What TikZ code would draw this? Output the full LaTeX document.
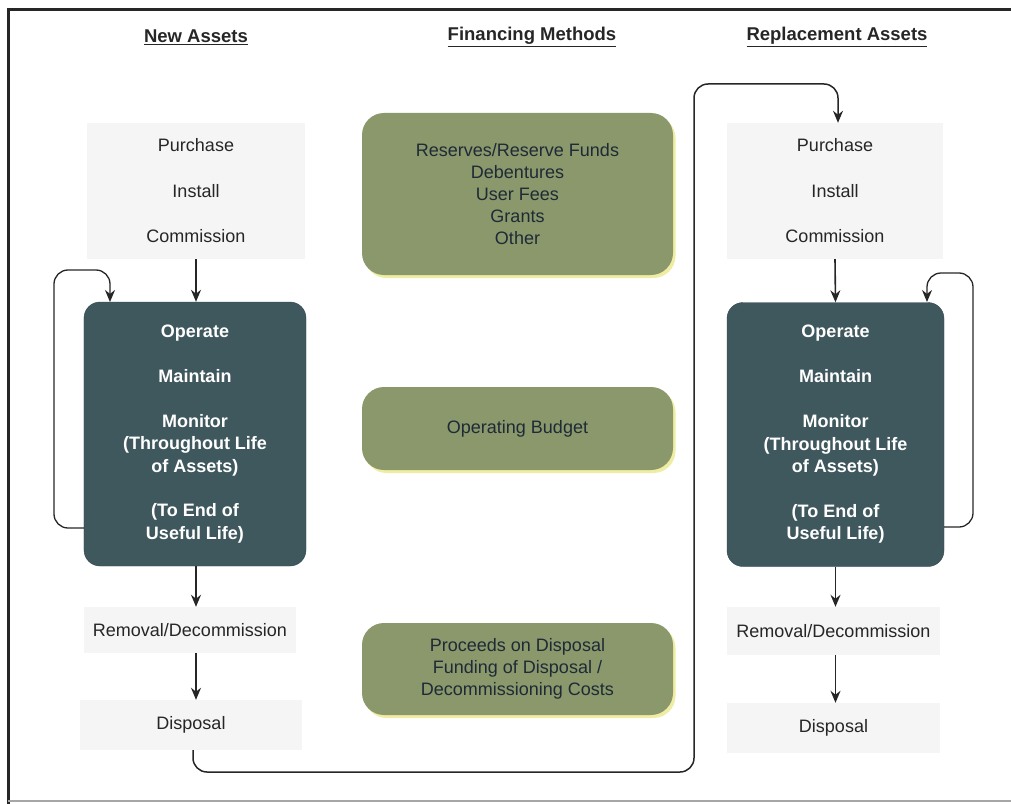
\documentclass[tikz,border=0pt]{standalone}
\usepackage{fontspec}
\setmainfont{Liberation Sans}
\usetikzlibrary{arrows.meta,shadows}
\definecolor{opsfill}{HTML}{3F585E}
\definecolor{finfill}{HTML}{8A986C}
\definecolor{fintext}{HTML}{1F2A36}
\definecolor{glow}{HTML}{EDEB9A}
\definecolor{faintfill}{HTML}{F5F5F5}
\begin{document}
\begin{tikzpicture}[x=1bp,y=-1bp,
  every node/.style={font=\fontsize{18bp}{22bp}\selectfont, text=black!85},
  head/.style={font=\fontsize{18.5bp}{22bp}\selectfont\bfseries},
  faint/.style={fill=faintfill, inner sep=0, align=center},
  ops/.style={fill=opsfill, draw=opsfill!80!black, rounded corners=16bp,
    minimum height=264bp, text=white, align=center, inner sep=0,
    font=\fontsize{18bp}{22.5bp}\selectfont\bfseries},
  fin/.style={fill=finfill, rounded corners=22bp, minimum width=311bp,
    text=fintext, align=center, inner sep=0,
    drop shadow={shadow xshift=2.5bp, shadow yshift=-3bp, fill=glow, opacity=0.9}},
  arr/.style={-{Stealth[length=12bp,width=10bp]}, line width=1.6bp, draw=black!85},
  loopline/.style={-{Stealth[length=12bp,width=10bp]}, line width=1.3bp, draw=black!85, rounded corners=14bp}
]
\useasboundingbox (0,0) rectangle (1011,804);
% frame
\draw[line width=3bp, black!85] (1011,10) -- (8,10) -- (8,804);
\draw[line width=1.5bp, black!35] (8,801) -- (1011,801);

% headers
\node[head] (hN) at (196,37) {\underline{New Assets}};
\node[head] (hF) at (532,37) {\underline{Financing Methods}};
\node[head] (hR) at (837,37) {\underline{Replacement Assets}};

% left column
\node[faint, minimum width=217bp, minimum height=136bp] (lpic) at (196,191)
  {Purchase\\[23.5bp]Install\\[23.5bp]Commission};
\node[ops, minimum width=222bp] (lops) at (195,434)
  {Operate\\[22.5bp]Maintain\\[22.5bp]Monitor\\(Throughout Life\\of Assets)\\[22bp](To End of\\Useful Life)};
\node[faint, minimum width=212bp, minimum height=46bp] (lrem) at (190,630) {Removal/Decommission};
\node[faint, minimum width=222bp, minimum height=50bp] (ldisp) at (191,725) {Disposal};

% right column
\node[faint, minimum width=216bp, minimum height=136bp] (rpic) at (835,191)
  {Purchase\\[23.5bp]Install\\[23.5bp]Commission};
\node[ops, minimum width=217bp] (rops) at (835.5,434.5)
  {Operate\\[22.5bp]Maintain\\[22.5bp]Monitor\\(Throughout Life\\of Assets)\\[22bp](To End of\\Useful Life)};
\node[faint, minimum width=213bp, minimum height=48bp] (rrem) at (833.5,631) {Removal/Decommission};
\node[faint, minimum width=213bp, minimum height=50bp] (rdisp) at (833.5,728) {Disposal};

% financing
\node[fin, minimum height=162bp] (f1) at (517.5,194)
  {Reserves/Reserve Funds\\Debentures\\User Fees\\Grants\\Other};
\node[fin, minimum height=83bp] (f2) at (517.5,428.5) {Operating Budget};
\node[fin, minimum height=92bp] (f3) at (517.5,669)
  {Proceeds on Disposal\\Funding of Disposal /\\Decommissioning Costs};

% straight arrows
\draw[arr] (lpic.south -| 196,0) -- (lops.north -| 196,0);
\draw[arr] (lops.south -| 196,0) -- (lrem.north -| 196,0);
\draw[arr] (lrem.south -| 196,0) -- (ldisp.north -| 196,0);
\draw[arr] (rpic.south) -- (rops.north);
\draw[arr] (rops.south) -- (rrem.north -| rops.south);
\draw[arr] (rrem.south -| rops.south) -- (rdisp.north -| rops.south);

% loops
\coordinate (lloopS) at (84,528);
\coordinate (lloopE) at (110,302);
\draw[loopline] (lloopS) -- ++(-30,0) |- ([yshift=32bp]lloopE) -- (lloopE);
\coordinate (rloopS) at (944,527);
\coordinate (rloopE) at (927,302);
\draw[loopline] (rloopS) -- ++(29,0) |- ([yshift=29bp]rloopE) -- (rloopE);

% return connector
\draw[loopline, line width=1.5bp] (ldisp.south -| 193,0) -- (193,772) -| (694,84) -| (rpic.north -| 838,0);
\end{tikzpicture}
\end{document}
